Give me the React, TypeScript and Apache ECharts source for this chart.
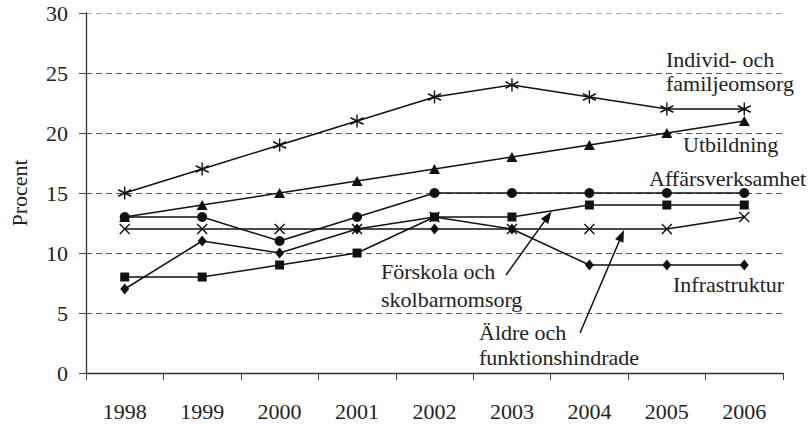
import React, { useEffect, useRef } from "react";
import * as echarts from "echarts";

const years = ["1998", "1999", "2000", "2001", "2002", "2003", "2004", "2005", "2006"];
const individ = [15, 17, 19, 21, 23, 24, 23, 22, 22];
const utbildning = [13, 14, 15, 16, 17, 18, 19, 20, 21];
const affars = [13, 13, 11, 13, 15, 15, 15, 15, 15];
const forskola = [12, 12, 12, 12, 13, 12, 12, 12, 13];
const aldre = [8, 8, 9, 10, 13, 13, 14, 14, 14];
const infra = [7, 11, 10, 12, 12, 12, 9, 9, 9];

const FONT = "Liberation Serif";
const INK = "#111";
const TXT = "#222";
const FS = 22;

const X_PATH = "path://M0 0 L10 10 M10 0 L0 10";
const STAR_PATH = "path://M0.6 2.5 L9.4 7.5 M9.4 2.5 L0.6 7.5 M5 0 L5 10";

function arrow(x1: number, y1: number, x2: number, y2: number) {
  const dx = x2 - x1, dy = y2 - y1;
  const L = Math.hypot(dx, dy);
  const ux = dx / L, uy = dy / L;
  const hl = 12, hw = 4.5;
  const bx = x2 - ux * hl, by = y2 - uy * hl;
  const px = -uy, py = ux;
  return [
    { type: "line", z: 100, shape: { x1, y1, x2: bx + ux * 2, y2: by + uy * 2 }, style: { stroke: INK, lineWidth: 1.5 } },
    {
      type: "polygon",
      z: 100,
      shape: { points: [[x2, y2], [bx + px * hw, by + py * hw], [bx - px * hw, by - py * hw]] },
      style: { fill: INK },
    },
  ];
}

// annotation text: left x, vertical centre y
function label(text: string, x: number, y: number) {
  const LH = 24;
  return {
    text,
    left: x,
    top: y - LH / 2,
    padding: 0,
    itemGap: 0,
    textStyle: {
      fontSize: FS,
      fontFamily: FONT,
      fontWeight: "normal",
      color: TXT,
      lineHeight: LH,
    },
  };
}

export default function App() {
  const ref = useRef<HTMLDivElement>(null);
  useEffect(() => {
    if (!ref.current) return;
    const chart = echarts.init(ref.current, null, { renderer: "svg" });
    const lineBase = (name: string, data: number[], symbol: string, size: number | number[], stroke: boolean) => ({
      name,
      type: "line",
      data,
      symbol,
      symbolSize: size,
      showSymbol: true,
      lineStyle: { color: INK, width: 1.5 },
      itemStyle: stroke
        ? { color: INK, borderColor: INK, borderWidth: 1.4 }
        : { color: INK, borderWidth: 0 },
      emphasis: { disabled: true },
    });
    chart.setOption({
      animation: false,
      textStyle: { fontFamily: FONT },
      title: [
        label("Individ- och", 666, 59),
        label("familjeomsorg", 666, 83),
        label("Utbildning", 683, 144),
        label("Affärsverksamhet", 649, 178.5),
        label("Infrastruktur", 673, 284),
        label("Förskola och", 381, 271.5),
        label("skolbarnomsorg", 381, 299),
        label("Äldre och", 479, 332.5),
        label("funktionshindrade", 479, 357.5),
      ],
      grid: { left: 81, right: 27, top: 13, bottom: 52, containLabel: false },
      xAxis: {
        type: "category",
        data: years,
        boundaryGap: true,
        axisLine: { show: true, lineStyle: { color: "#333", width: 1.3 } },
        axisTick: { show: true, length: 7, lineStyle: { color: "#444", width: 1 } },
        axisLabel: { margin: 27, fontSize: FS, fontFamily: FONT, color: TXT },
        splitLine: { show: false },
      },
      yAxis: {
        type: "value",
        min: 0,
        max: 30,
        interval: 5,
        name: "Procent",
        nameLocation: "middle",
        nameRotate: 90,
        nameGap: 56,
        nameTextStyle: { fontSize: FS, fontFamily: FONT, color: TXT },
        axisLine: { show: true, lineStyle: { color: "#333", width: 1.3 } },
        axisTick: { show: true, length: 7, lineStyle: { color: "#444", width: 1 } },
        axisLabel: { margin: 18, fontSize: FS, fontFamily: FONT, color: TXT },
        splitLine: {
          show: true,
          lineStyle: {
            color: ["#555", "#555", "#555", "#555", "#555", "#555", "#aaa"],
            width: 1,
            type: [6, 4],
          },
        },
      },
      series: [
        lineBase("Förskola och skolbarnomsorg", forskola, X_PATH, 10, true),
        lineBase("Äldre och funktionshindrade", aldre, "rect", 9, false),
        lineBase("Infrastruktur", infra, "diamond", [9, 11], false),
        lineBase("Utbildning", utbildning, "triangle", [11, 10], false),
        lineBase("Affärsverksamhet", affars, "circle", 10, false),
        lineBase("Individ- och familjeomsorg", individ, STAR_PATH, 13, true),
      ],
      graphic: [...arrow(506, 275, 551.5, 211.5), ...arrow(580, 333, 624, 230)],
    });
    return () => chart.dispose();
  }, []);
  return (
    <div
      ref={ref}
      style={{ position: "fixed", left: 0, top: 0, width: 810, height: 425, background: "#fff" }}
    />
  );
}
